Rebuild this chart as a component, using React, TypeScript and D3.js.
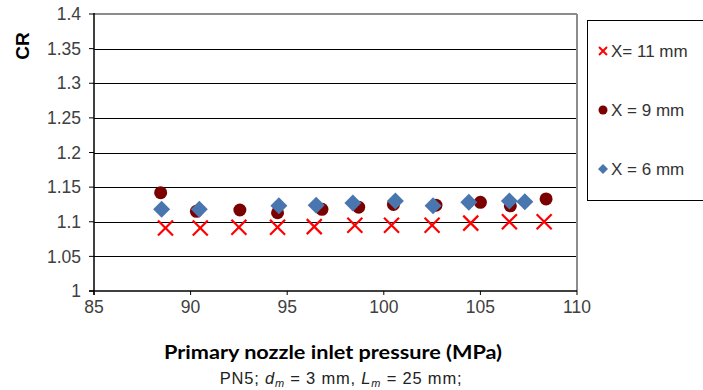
import React from "react";
import * as d3 from "d3";

const xTicks = [85, 90, 95, 100, 105, 110];
const yTicks = [1, 1.05, 1.1, 1.15, 1.2, 1.25, 1.3, 1.35, 1.4];

const x11 = [88.7, 90.5, 92.5, 94.5, 96.4, 98.5, 100.4, 102.5, 104.5, 106.5, 108.3];
const y11 = [1.091, 1.091, 1.092, 1.092, 1.093, 1.095, 1.095, 1.095, 1.098, 1.1, 1.1];

const x9 = [88.45, 90.3, 92.55, 94.5, 96.8, 98.7, 100.5, 102.7, 105.0, 106.55, 108.4];
const y9 = [1.142, 1.115, 1.117, 1.113, 1.118, 1.121, 1.125, 1.124, 1.128, 1.123, 1.133];

const x6 = [88.5, 90.45, 94.57, 96.5, 98.4, 100.6, 102.55, 104.4, 106.5, 107.3];
const y6 = [1.118, 1.118, 1.123, 1.124, 1.127, 1.13, 1.123, 1.128, 1.13, 1.129];

const legendLabels = ["X= 11 mm", "X = 9 mm", "X = 6 mm"];

const RED = "#ff0000";
const MAROON = "#7b0000";
const BLUE = "#4a76b0";
const FONT = "Arial, 'Liberation Sans', sans-serif";

export default function App() {
  const left = 94, right = 577, top = 14, bottom = 291;
  const x = d3.scaleLinear().domain([85, 110]).range([left, right]);
  const y = d3.scaleLinear().domain([1, 1.4]).range([bottom, top]);

  const cross = (cx: number, cy: number, s: number, sw: number, key: string) => (
    <g key={key} stroke={RED} strokeWidth={sw} strokeLinecap="butt">
      <line x1={cx - s} y1={cy - s} x2={cx + s} y2={cy + s} />
      <line x1={cx - s} y1={cy + s} x2={cx + s} y2={cy - s} />
    </g>
  );
  const diam = (cx: number, cy: number, r: number, key: string) => (
    <path key={key} d={`M${cx},${cy - r}L${cx + r},${cy}L${cx},${cy + r}L${cx - r},${cy}Z`} fill={BLUE} />
  );

  return (
    <svg width={703} height={390} style={{ position: "absolute", left: 0, top: 0, background: "#fff" }}>
      <rect x={0} y={0} width={703} height={390} fill="#fff" />
      {yTicks.slice(1, -1).map((t) => (
        <line key={"g" + t} x1={left} x2={right} y1={Math.round(y(t)) + 0.5} y2={Math.round(y(t)) + 0.5} stroke="#000" strokeWidth={1} />
      ))}
      <line x1={left} x2={right} y1={top} y2={top} stroke="#8c8c8c" strokeWidth={2} />
      <line x1={right} x2={right} y1={top} y2={bottom} stroke="#8c8c8c" strokeWidth={2} />
      <line x1={left} x2={left} y1={top - 1} y2={bottom + 4} stroke="#000" strokeWidth={1.5} />
      <line x1={left - 5} x2={right} y1={bottom} y2={bottom} stroke="#000" strokeWidth={1.5} />
      {yTicks.map((t) => (
        <g key={"yt" + t}>
          <line x1={left - 5} x2={left} y1={y(t)} y2={y(t)} stroke="#000" strokeWidth={1} />
          <text x={left - 13} y={y(t)} dy="0.35em" textAnchor="end" fontFamily={FONT} fontSize={17.5} fill="#404040">
            {String(+t.toFixed(2))}
          </text>
        </g>
      ))}
      {xTicks.map((t) => (
        <g key={"xt" + t}>
          <line x1={x(t)} x2={x(t)} y1={bottom} y2={bottom + 4} stroke="#000" strokeWidth={1} />
          <text x={x(t)} y={bottom + 22} textAnchor="middle" fontFamily={FONT} fontSize={17.5} fill="#404040">
            {t}
          </text>
        </g>
      ))}
      {x11.map((v, i) => cross(x(v), y(y11[i]), 7.5, 2.2, "x" + i))}
      {x9.map((v, i) => (
        <circle key={"c" + i} cx={x(v)} cy={y(y9[i])} r={6.5} fill={MAROON} />
      ))}
      {x6.map((v, i) => diam(x(v), y(y6[i]), 8.5, "d" + i))}
      <text transform="translate(29,46) rotate(-90)" textAnchor="middle" fontFamily={FONT} fontWeight="bold" fontSize={19} fill="#000">
        CR
      </text>
      <text x={333} y={359} textAnchor="middle" fontFamily="Lato, 'Open Sans', sans-serif" fontWeight="bold" fontSize={19} fill="#000" textLength={338} lengthAdjust="spacingAndGlyphs">
        Primary nozzle inlet pressure (MPa)
      </text>
      <text x={341} y={384} textAnchor="middle" fontFamily={FONT} fontSize={16.5} letterSpacing={0.8} fill="#222">
        PN5;{" "}
        <tspan fontStyle="italic">d</tspan>
        <tspan fontStyle="italic" fontSize={11} dy={3}>m</tspan>
        <tspan dy={-3}> = 3 mm, </tspan>
        <tspan fontStyle="italic">L</tspan>
        <tspan fontStyle="italic" fontSize={11} dy={3}>m</tspan>
        <tspan dy={-3}> = 25 mm;</tspan>
      </text>
      <rect x={587.5} y={20.5} width={120} height={180} fill="#fff" stroke="#000" strokeWidth={1} />
      {legendLabels.map((lab, i) => {
        const ly = [51, 110, 169][i];
        return (
          <g key={"l" + i}>
            {i === 0 && cross(603, ly, 4, 2, "lx")}
            {i === 1 && <circle cx={603} cy={ly} r={4.5} fill={MAROON} />}
            {i === 2 && diam(603, ly, 5, "ld")}
            <text x={611} y={ly} dy="0.35em" fontFamily={FONT} fontSize={17} fill="#333">
              {lab}
            </text>
          </g>
        );
      })}
    </svg>
  );
}
